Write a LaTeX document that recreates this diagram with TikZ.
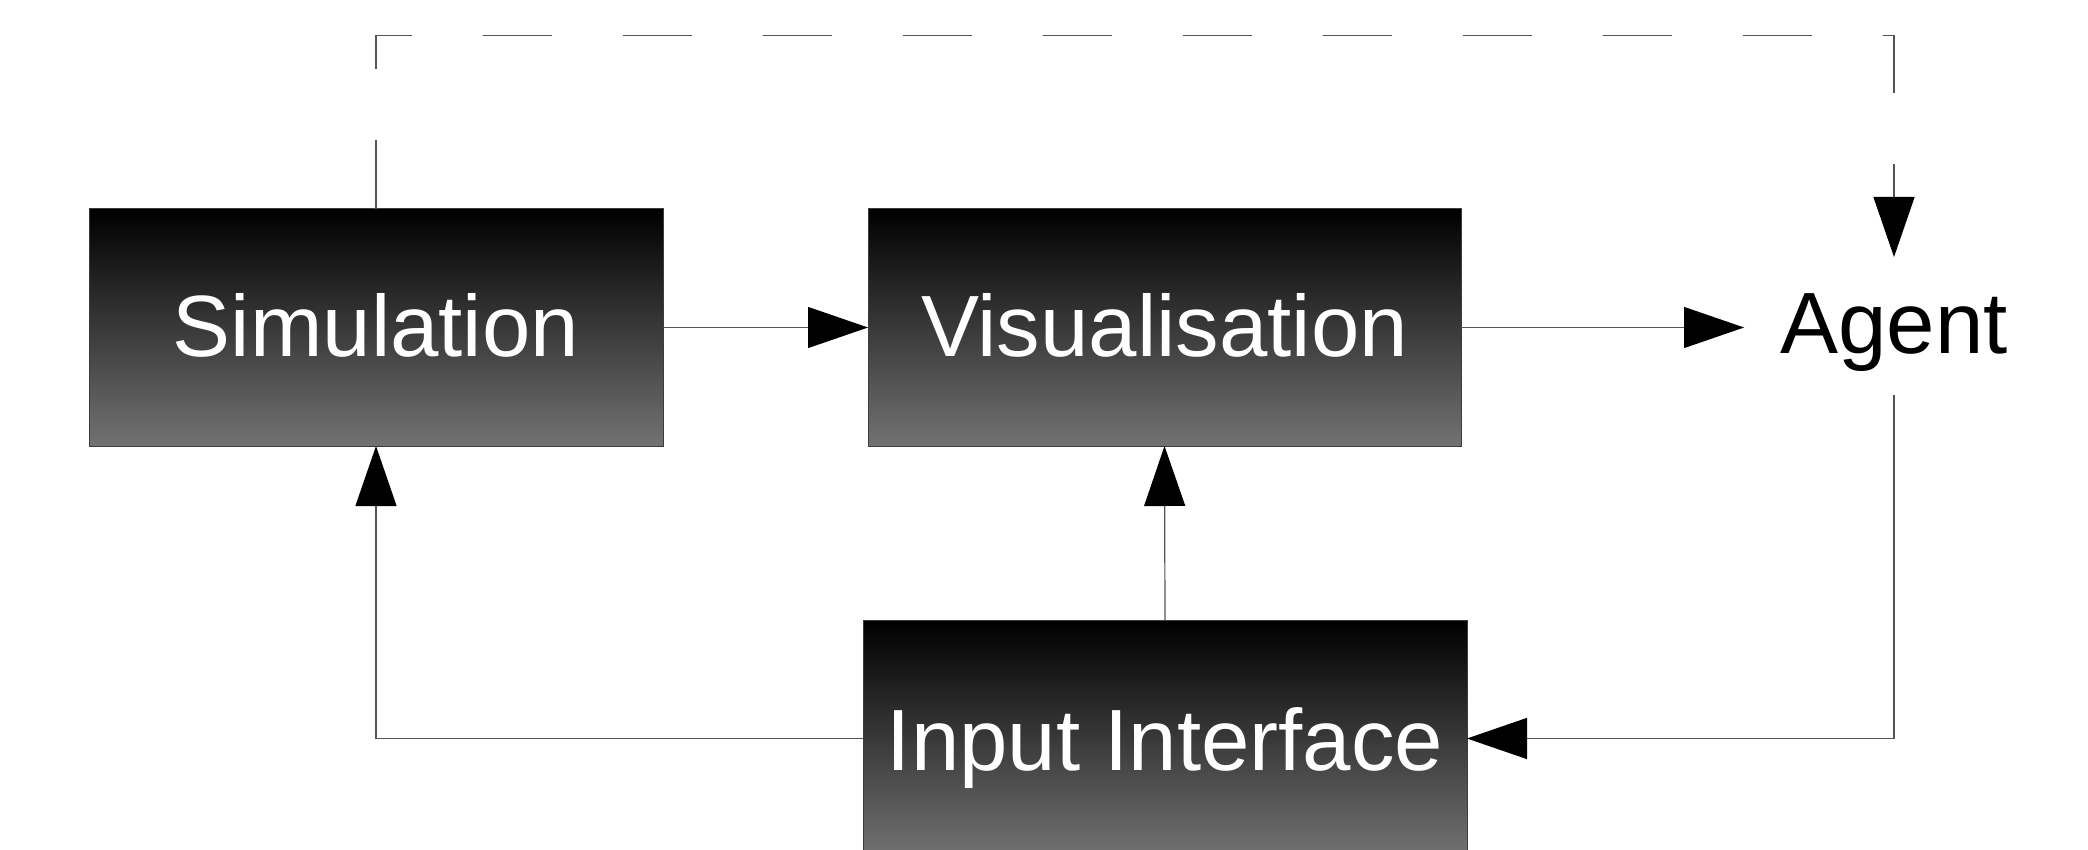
\documentclass[tikz,border=0pt]{standalone}
\usepackage{fontspec}
\setmainfont{Liberation Sans}
\usetikzlibrary{arrows.meta}
\definecolor{linegray}{RGB}{85,85,85}
\definecolor{boxedge}{RGB}{60,60,60}
\definecolor{boxbottom}{RGB}{114,114,114}
\begin{document}
\begin{tikzpicture}[x=0.5pt,y=-0.5pt,
  box/.style={draw=boxedge, line width=0.5pt, top color=black, bottom color=boxbottom,
    text=white, font=\fontsize{43.5}{52}\selectfont, inner sep=0pt, outer sep=0pt,
    minimum height=118.5pt, text height=29.5pt, text depth=0pt},
  plain/.style={inner sep=0pt, outer sep=0pt, font=\fontsize{43.5}{52}\selectfont,
    text height=27pt, text depth=0pt},
  link/.style={draw=linegray, line width=0.6pt,
    -{Triangle[length=30pt,width=20.5pt,color=black]}}]
  \useasboundingbox (0,0) rectangle (2088,850);
  \clip (0,0) rectangle (2088,850);

  % blocks
  \node[box, minimum width=287pt]   (sim)   at (376,327.5)    {Simulation};
  \node[box, minimum width=296.5pt] (vis)   at (1164.5,327.5) {Visualisation};
  \node[box, minimum width=302pt, text height=31.5pt] (input) at (1165,738.5) {Input Interface};
  \node[plain, minimum width=150pt, minimum height=69pt] (agent) at (1894,326) {Agent};
  \coordinate (top) at (0,35.5);

  % data flow
  \draw[link] (sim.east) -- (vis.west);
  \draw[link] (vis.east) -- (vis.east -| agent.west);
  \draw[link] (input.north) -- (vis.south);
  \draw[link] (input.west) -| (sim.south);
  \draw[link] (agent.south) |- (input.east);

  % feedback from the simulation to the agent
  \draw[link, dash pattern=on 34.5pt off 35.5pt]
    (sim.north) -- (sim.north |- top) -| (agent.north);
\end{tikzpicture}
\end{document}
